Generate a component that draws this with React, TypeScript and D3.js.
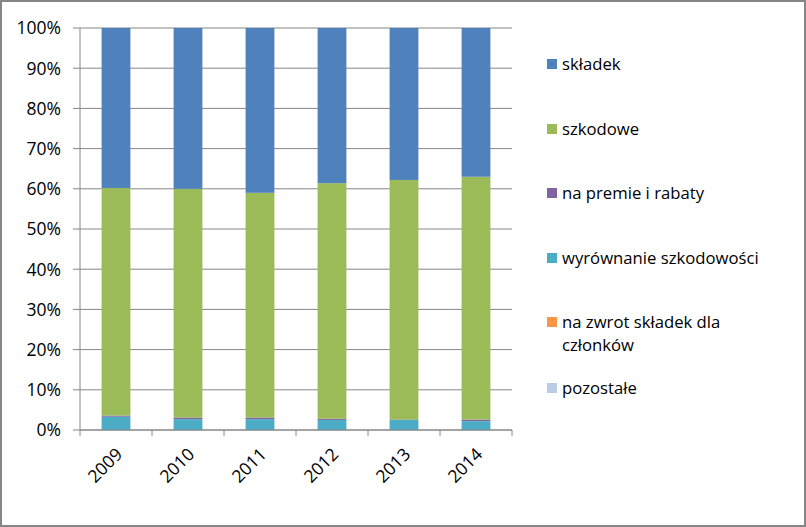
import React from "react";
import * as d3 from "d3";

const years = ["2009", "2010", "2011", "2012", "2013", "2014"];
const seriesNames = ["pozostałe", "na zwrot składek dla członków", "wyrównanie szkodowości", "na premie i rabaty", "szkodowe", "składek"];
const pozostale = [0, 0, 0, 0, 0, 0];
const naZwrot = [0, 0, 0, 0, 0, 0];
const wyrownanie = [3.3, 2.7, 2.7, 2.5, 2.5, 2.2];
const naPremie = [0.3, 0.4, 0.4, 0.3, 0.1, 0.4];
const szkodowe = [56.6, 56.9, 55.9, 58.6, 59.6, 60.4];
const skladek = [39.8, 40.0, 41.0, 38.6, 37.8, 37.0];
const yTicks = [0, 10, 20, 30, 40, 50, 60, 70, 80, 90, 100];
const colors = ["#B9CDE5", "#F79646", "#4BACC6", "#8064A2", "#9BBB59", "#4F81BD"];

const legendItems = [
  { name: ["składek"], color: "#4F81BD", y: 64 },
  { name: ["szkodowe"], color: "#9BBB59", y: 129 },
  { name: ["na premie i rabaty"], color: "#8064A2", y: 193 },
  { name: ["wyrównanie szkodowości"], color: "#4BACC6", y: 258 },
  { name: ["na zwrot składek dla", "członków"], color: "#F79646", y: 322 },
  { name: ["pozostałe"], color: "#B9CDE5", y: 388 },
];

export default function App() {
  const W = 806, H = 527;
  const left = 80, right = 512, top = 28, bottom = 430;
  const x = d3.scaleBand().domain(years).range([left, right]).paddingInner(0.6).paddingOuter(0.3);
  const y = d3.scaleLinear().domain([0, 100]).range([bottom, top]);
  const series = [pozostale, naZwrot, wyrownanie, naPremie, szkodowe, skladek];
  const rows = years.map((yr, i) => {
    const o: any = { year: yr };
    series.forEach((s, k) => (o[seriesNames[k]] = s[i]));
    return o;
  });
  const stacked = d3.stack<any>().keys(seriesNames).offset(d3.stackOffsetExpand)(rows);
  const band = (right - left) / years.length;
  const font = "'Open Sans', sans-serif";
  return (
    <svg width={W} height={H} style={{ position: "absolute", left: 0, top: 0 }} fontFamily={font}>
      <rect x={1} y={1} width={W - 2} height={H - 2} fill="#fff" stroke="#868686" strokeWidth={2} />
      {yTicks.map((t) => (
        <g key={t}>
          <line x1={left - 7} x2={right} y1={y(t)} y2={y(t)} stroke="#868686" strokeWidth={1} />
          <text x={61} y={y(t)} dy="0.36em" textAnchor="end" fontSize={17.5} fill="#000">{t}%</text>
        </g>
      ))}
      {stacked.map((layer, k) => (
        <g key={k} fill={colors[k]}>
          {layer.map((d, i) => (
            <rect key={i} x={x(years[i])} width={x.bandwidth()} y={y(d[1] * 100)} height={Math.max(0, y(d[0] * 100) - y(d[1] * 100))} />
          ))}
        </g>
      ))}
      <line x1={left} x2={left} y1={top} y2={bottom} stroke="#868686" />
      <line x1={left} x2={right} y1={bottom} y2={bottom} stroke="#868686" />
      {d3.range(years.length + 1).map((i) => (
        <line key={i} x1={left + i * band} x2={left + i * band} y1={bottom} y2={bottom + 6} stroke="#868686" />
      ))}
      {years.map((yr) => {
        const cx = (x(yr) as number) + x.bandwidth() / 2 + 3;
        return (
          <text key={yr} transform={`translate(${cx},${bottom + 21}) rotate(-45)`} textAnchor="end" dy="0.36em" fontSize={17.5} fill="#000">{yr}</text>
        );
      })}
      {legendItems.map((it) => (
        <g key={it.name[0]}>
          <rect x={547} y={it.y - 5} width={10} height={10} fill={it.color} />
          {it.name.map((n, j) => (
            <text key={j} x={562} y={it.y + j * 23} dy="0.36em" fontSize={16.7} fill="#000">{n}</text>
          ))}
        </g>
      ))}
    </svg>
  );
}
